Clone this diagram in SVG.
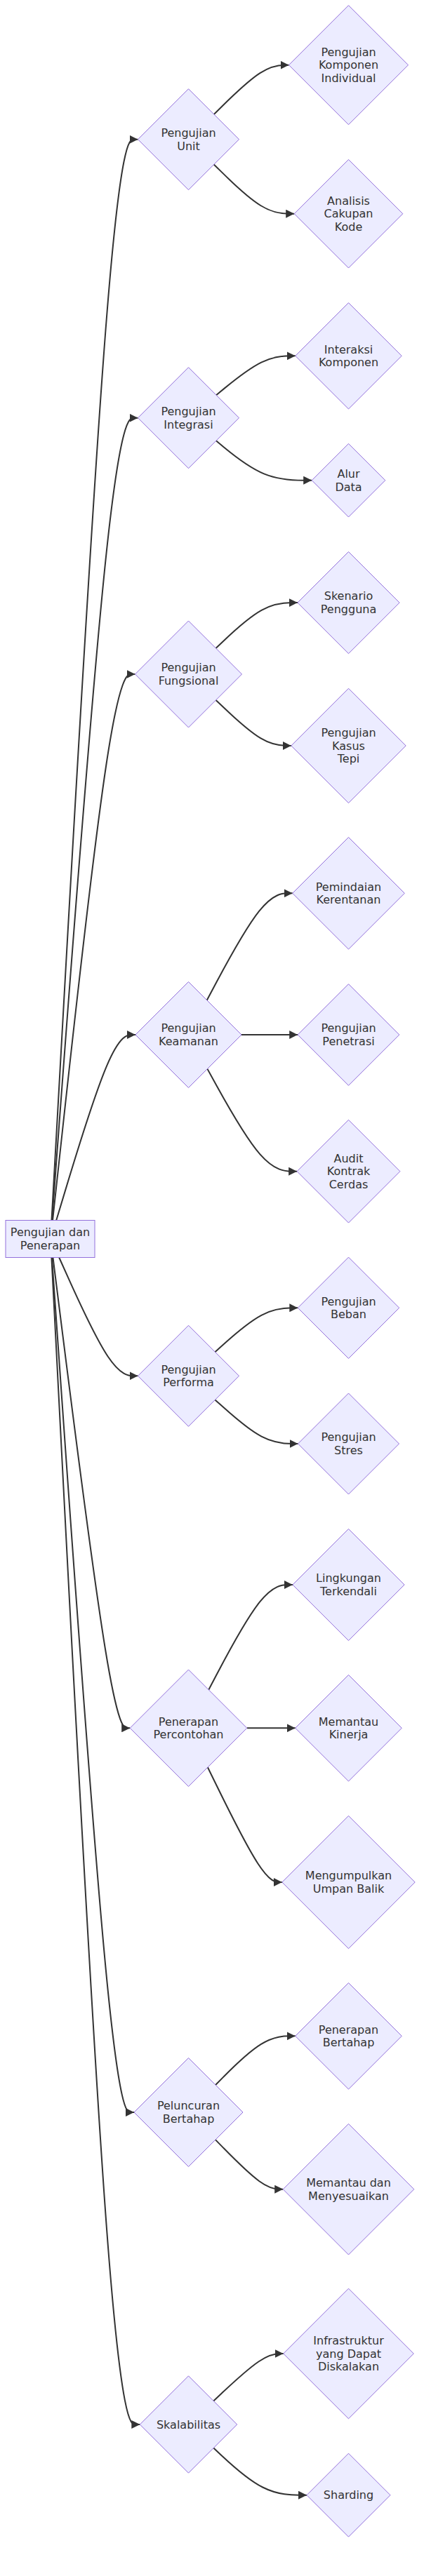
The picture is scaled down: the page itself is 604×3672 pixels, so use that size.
<svg xmlns="http://www.w3.org/2000/svg" width="604" height="3672" viewBox="0 0 604 3672">
<style>
.node polygon, .node rect { fill: #ECECFF; stroke: #9370DB; stroke-width: 1; }
.edge { fill: none; stroke: #333333; stroke-width: 2; marker-end: url(#arrow); }
text { font-family: "DejaVu Sans", Verdana, sans-serif; font-size: 16px; fill: #333333; text-anchor: middle; }
</style>
<defs>
<marker id="arrow" viewBox="0 0 10 10" refX="10" refY="5" markerUnits="userSpaceOnUse" markerWidth="12" markerHeight="12" orient="auto">
<path d="M0,0 L10,5 L0,10 z" fill="#333333"/>
</marker>
</defs>
<rect width="604" height="3672" fill="#ffffff"/>
<g id="connectors">
<path class="edge" d="M73.5,1739.5 L87.92,1482.7 C102.33,1225.9 131.17,712.3 151.67,455.5 C172.17,198.7 184.33,198.7 190.42,198.7 L196.5,198.7"/>
<path class="edge" d="M74,1739.5 L88.33,1548.9 C102.67,1358.2 131.33,977 151.75,786.3 C172.17,595.7 184.33,595.7 190.42,595.7 L196.5,595.7"/>
<path class="edge" d="M75,1739.5 L89.17,1609.75 C103.33,1480 131.67,1220.5 151.25,1090.75 C170.83,961 181.67,961 187.08,961 L192.5,961"/>
<path class="edge" d="M80.2,1739.5 L93.5,1695.4 C106.8,1651.3 133.4,1563.2 152.2,1519.1 C171,1475 182,1475 187.5,1475 L193,1475"/>
<path class="edge" d="M84.2,1792.5 L96.83,1820.6 C109.47,1848.8 134.73,1905 153.45,1933.2 C172.17,1961.3 184.33,1961.3 190.42,1961.3 L196.5,1961.3"/>
<path class="edge" d="M75.42,1792.5 L89.52,1904.3 C103.62,2016.1 131.8,2239.7 150.1,2351.5 C168.4,2463.3 176.8,2463.3 181,2463.3 L185.2,2463.3"/>
<path class="edge" d="M73.9,1792.5 L88.25,1995.6 C102.6,2198.7 131.3,2604.8 150.81,2807.9 C170.33,3011 180.67,3011 185.83,3011 L191,3011"/>
<path class="edge" d="M73.4,1792.5 L87.83,2069.75 C102.27,2347 131.13,2901.5 152.11,3178.75 C173.1,3456 186.2,3456 192.75,3456 L199.3,3456"/>
<path class="edge" d="M304.75,162.95 L316.63,151.24 C328.5,139.53 352.25,116.12 370.05,104.41 C387.83,92.7 399.67,92.7 405.58,92.7 L411.5,92.7"/>
<path class="edge" d="M304.75,234.45 L316.63,246.16 C328.5,257.87 352.25,281.28 371.33,292.99 C390.4,304.7 404.8,304.7 412,304.7 L419.2,304.7"/>
<path class="edge" d="M308.01,563.21 L319.34,553.89 C330.67,544.57 353.34,525.94 372.14,516.62 C390.93,507.3 405.87,507.3 413.33,507.3 L420.8,507.3"/>
<path class="edge" d="M307.89,628.31 L319.24,637.71 C330.59,647.11 353.3,665.9 376.02,675.3 C398.73,684.7 421.47,684.7 432.83,684.7 L444.2,684.7"/>
<path class="edge" d="M307.51,924.02 L318.93,913.2 C330.34,902.38 353.17,880.74 372.57,869.92 C391.96,859.1 407.94,859.1 415.91,859.1 L423.9,859.1"/>
<path class="edge" d="M307.5,998 L318.92,1008.83 C330.33,1019.67 353.17,1041.33 371.05,1052.17 C388.93,1063 401.87,1063 408.33,1063 L414.8,1063"/>
<path class="edge" d="M294.75,1425.75 L308.29,1400.34 C321.83,1374.93 348.92,1324.12 369.25,1298.71 C389.56,1273.3 403.14,1273.3 409.91,1273.3 L416.7,1273.3"/>
<path class="edge" d="M344,1475 L424.2,1475"/>
<path class="edge" d="M295.36,1523.64 L308.8,1547.98 C322.24,1572.33 349.12,1621.01 370.41,1645.36 C391.7,1669.7 407.4,1669.7 415.25,1669.7 L423.1,1669.7"/>
<path class="edge" d="M306.35,1927.15 L317.96,1916.68 C329.57,1906.2 352.78,1885.25 372.45,1874.78 C392.1,1864.3 408.2,1864.3 416.25,1864.3 L424.3,1864.3"/>
<path class="edge" d="M306.4,1995.4 L318,2005.83 C329.6,2016.27 352.8,2037.13 372.49,2047.57 C392.16,2058 408.34,2058 416.41,2058 L424.5,2058"/>
<path class="edge" d="M297.22,2408.71 L310.35,2383.76 C323.48,2358.81 349.74,2308.9 369.69,2283.95 C389.63,2259 403.27,2259 410.08,2259 L416.9,2259"/>
<path class="edge" d="M351.8,2463.3 L420.7,2463.3"/>
<path class="edge" d="M295.87,2519.23 L309.23,2546.53 C322.58,2573.82 349.29,2628.41 366.95,2655.71 C384.6,2683 393.2,2683 397.5,2683 L401.8,2683"/>
<path class="edge" d="M307.04,2972.03 L318.53,2960.41 C330.03,2948.79 353.01,2925.54 371.96,2913.92 C390.9,2902.3 405.8,2902.3 413.25,2902.3 L420.7,2902.3"/>
<path class="edge" d="M306.86,3050.14 L318.38,3061.9 C329.91,3073.66 352.95,3097.18 369.01,3108.94 C385.06,3120.7 394.14,3120.7 398.66,3120.7 L403.2,3120.7"/>
<path class="edge" d="M304.18,3422.48 L316.15,3411.23 C328.12,3399.99 352.06,3377.49 368.65,3366.25 C385.23,3355 394.47,3355 399.08,3355 L403.7,3355"/>
<path class="edge" d="M304.23,3489.47 L316.19,3500.68 C328.15,3511.88 352.08,3534.29 374.21,3545.5 C396.33,3556.7 416.67,3556.7 426.83,3556.7 L437,3556.7"/>
</g>
<g id="root" class="node"><rect x="8" y="1739.5" width="127" height="53"/><text x="71.5" y="1762.2">Pengujian dan</text><text x="71.5" y="1780.8">Penerapan</text></g>
<g id="unit" class="node"><polygon points="268.5,126.7 340.5,198.7 268.5,270.7 196.5,198.7"/><text x="268.5" y="194.9">Pengujian</text><text x="268.5" y="213.5">Unit</text></g>
<g id="komponen-individual" class="node"><polygon points="496.5,7.7 581.5,92.7 496.5,177.7 411.5,92.7"/><text x="496.5" y="79.6">Pengujian</text><text x="496.5" y="98.2">Komponen</text><text x="496.5" y="116.8">Individual</text></g>
<g id="cakupan-kode" class="node"><polygon points="496.5,227.4 573.8,304.7 496.5,382 419.2,304.7"/><text x="496.5" y="291.6">Analisis</text><text x="496.5" y="310.2">Cakupan</text><text x="496.5" y="328.8">Kode</text></g>
<g id="integrasi" class="node"><polygon points="268.5,523.7 340.5,595.7 268.5,667.7 196.5,595.7"/><text x="268.5" y="591.9">Pengujian</text><text x="268.5" y="610.5">Integrasi</text></g>
<g id="interaksi-komponen" class="node"><polygon points="496.5,431.6 572.2,507.3 496.5,583 420.8,507.3"/><text x="496.5" y="503.5">Interaksi</text><text x="496.5" y="522.1">Komponen</text></g>
<g id="alur-data" class="node"><polygon points="496.5,632.4 548.8,684.7 496.5,737 444.2,684.7"/><text x="496.5" y="680.9">Alur</text><text x="496.5" y="699.5">Data</text></g>
<g id="fungsional" class="node"><polygon points="268.5,885 344.5,961 268.5,1037 192.5,961"/><text x="268.5" y="957.2">Pengujian</text><text x="268.5" y="975.8">Fungsional</text></g>
<g id="skenario-pengguna" class="node"><polygon points="496.5,786.5 569.1,859.1 496.5,931.7 423.9,859.1"/><text x="496.5" y="855.3">Skenario</text><text x="496.5" y="873.9">Pengguna</text></g>
<g id="kasus-tepi" class="node"><polygon points="496.5,981.3 578.2,1063 496.5,1144.7 414.8,1063"/><text x="496.5" y="1049.9">Pengujian</text><text x="496.5" y="1068.5">Kasus</text><text x="496.5" y="1087.1">Tepi</text></g>
<g id="keamanan" class="node"><polygon points="268.5,1399.5 344,1475 268.5,1550.5 193,1475"/><text x="268.5" y="1471.2">Pengujian</text><text x="268.5" y="1489.8">Keamanan</text></g>
<g id="pemindaian-kerentanan" class="node"><polygon points="496.5,1193.5 576.3,1273.3 496.5,1353.1 416.7,1273.3"/><text x="496.5" y="1269.5">Pemindaian</text><text x="496.5" y="1288.1">Kerentanan</text></g>
<g id="penetrasi" class="node"><polygon points="496.5,1402.7 568.8,1475 496.5,1547.3 424.2,1475"/><text x="496.5" y="1471.2">Pengujian</text><text x="496.5" y="1489.8">Penetrasi</text></g>
<g id="audit-kontrak" class="node"><polygon points="496.5,1596.3 569.9,1669.7 496.5,1743.1 423.1,1669.7"/><text x="496.5" y="1656.6">Audit</text><text x="496.5" y="1675.2">Kontrak</text><text x="496.5" y="1693.8">Cerdas</text></g>
<g id="performa" class="node"><polygon points="268.5,1889.3 340.5,1961.3 268.5,2033.3 196.5,1961.3"/><text x="268.5" y="1957.5">Pengujian</text><text x="268.5" y="1976.1">Performa</text></g>
<g id="beban" class="node"><polygon points="496.5,1792.1 568.7,1864.3 496.5,1936.5 424.3,1864.3"/><text x="496.5" y="1860.5">Pengujian</text><text x="496.5" y="1879.1">Beban</text></g>
<g id="stres" class="node"><polygon points="496.5,1986 568.5,2058 496.5,2130 424.5,2058"/><text x="496.5" y="2054.2">Pengujian</text><text x="496.5" y="2072.8">Stres</text></g>
<g id="percontohan" class="node"><polygon points="268.5,2380 351.8,2463.3 268.5,2546.6 185.2,2463.3"/><text x="268.5" y="2459.5">Penerapan</text><text x="268.5" y="2478.1">Percontohan</text></g>
<g id="lingkungan" class="node"><polygon points="496.5,2179.4 576.1,2259 496.5,2338.6 416.9,2259"/><text x="496.5" y="2255.2">Lingkungan</text><text x="496.5" y="2273.8">Terkendali</text></g>
<g id="memantau-kinerja" class="node"><polygon points="496.5,2387.5 572.3,2463.3 496.5,2539.1 420.7,2463.3"/><text x="496.5" y="2459.5">Memantau</text><text x="496.5" y="2478.1">Kinerja</text></g>
<g id="umpan-balik" class="node"><polygon points="496.5,2588.3 591.2,2683 496.5,2777.7 401.8,2683"/><text x="496.5" y="2679.2">Mengumpulkan</text><text x="496.5" y="2697.8">Umpan Balik</text></g>
<g id="peluncuran" class="node"><polygon points="268.5,2933.5 346,3011 268.5,3088.5 191,3011"/><text x="268.5" y="3007.2">Peluncuran</text><text x="268.5" y="3025.8">Bertahap</text></g>
<g id="penerapan-bertahap" class="node"><polygon points="496.5,2826.5 572.3,2902.3 496.5,2978.1 420.7,2902.3"/><text x="496.5" y="2898.5">Penerapan</text><text x="496.5" y="2917.1">Bertahap</text></g>
<g id="memantau-menyesuaikan" class="node"><polygon points="496.5,3027.4 589.8,3120.7 496.5,3214 403.2,3120.7"/><text x="496.5" y="3116.9">Memantau dan</text><text x="496.5" y="3135.5">Menyesuaikan</text></g>
<g id="skalabilitas" class="node"><polygon points="268.5,3386.8 337.7,3456 268.5,3525.2 199.3,3456"/><text x="268.5" y="3461.5">Skalabilitas</text></g>
<g id="infrastruktur" class="node"><polygon points="496.5,3262.2 589.3,3355 496.5,3447.8 403.7,3355"/><text x="496.5" y="3341.9">Infrastruktur</text><text x="496.5" y="3360.5">yang Dapat</text><text x="496.5" y="3379.1">Diskalakan</text></g>
<g id="sharding" class="node"><polygon points="496.5,3497.2 556,3556.7 496.5,3616.2 437,3556.7"/><text x="496.5" y="3562.2">Sharding</text></g>
</svg>
